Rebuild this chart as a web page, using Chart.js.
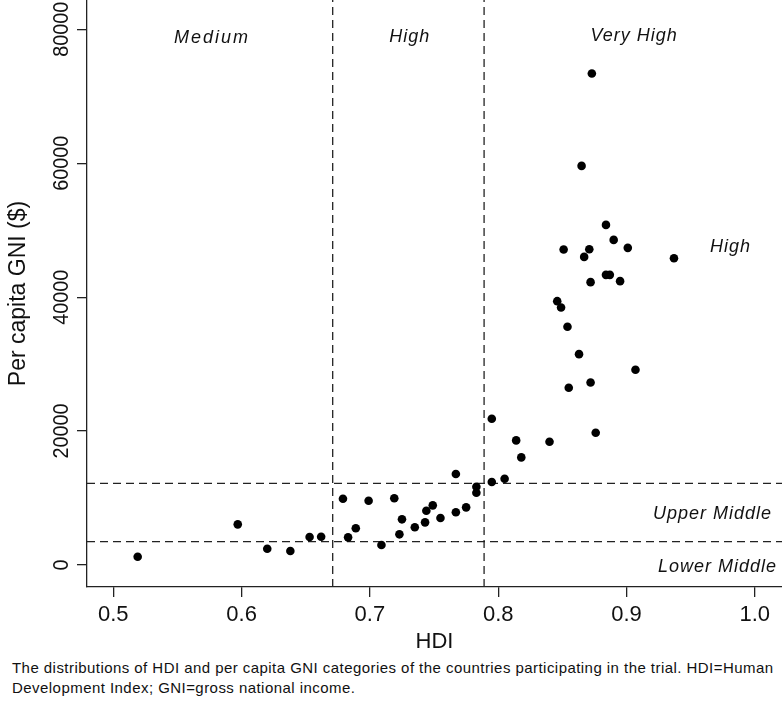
<!DOCTYPE html>
<html>
<head>
<meta charset="utf-8">
<script src="https://cdn.jsdelivr.net/npm/chart.js@4.4.1/dist/chart.umd.min.js"></script>
<style>
  body { margin: 0; background: #fff; }
  #wrap { position: relative; width: 782px; height: 714px; }
  #caption {
    position: absolute; left: 12px; top: 658px;
    font: 15px "Liberation Sans", Arial, sans-serif;
    letter-spacing: 0.45px;
    line-height: 20px; color: #111; white-space: nowrap;
  }
</style>
</head>
<body>
<div id="wrap">
  <canvas id="chart" width="782" height="656"></canvas>
  <div id="caption">The distributions of HDI and per capita GNI categories of the countries participating in the trial. HDI=Human<br>Development Index; GNI=gross national income.</div>
</div>
<script>
// HDI and per capita GNI ($) of each country
const hdi = [0.519, 0.597, 0.620, 0.638, 0.653, 0.662, 0.679, 0.683, 0.689, 0.699,
             0.709, 0.719, 0.723, 0.725, 0.735, 0.743, 0.744, 0.749, 0.755, 0.767,
             0.767, 0.775, 0.783, 0.783, 0.795, 0.805, 0.795, 0.814, 0.818, 0.840,
             0.855, 0.872, 0.876, 0.846, 0.849, 0.854, 0.863, 0.907, 0.884, 0.890,
             0.851, 0.871, 0.901, 0.867, 0.937, 0.884, 0.887, 0.872, 0.895, 0.873,
             0.865];
const gni = [1240, 6070, 2430, 2090, 4180, 4220, 9900, 4130, 5480, 9600,
             2990, 9960, 4580, 6820, 5630, 6370, 8100, 8910, 7020, 7870,
             13580, 8610, 11690, 10790, 12390, 12880, 21840, 18610, 16070, 18400,
             26460, 27260, 19750, 39400, 38460, 35570, 31490, 29150, 50790, 48550,
             47120, 47160, 47360, 46010, 45820, 43330, 43330, 42240, 42390, 73390,
             59600];

// category cut-offs
const hdiCuts = [0.671, 0.789];
const gniCuts = [3500, 12200];

const xTicks = [0.5, 0.6, 0.7, 0.8, 0.9, 1.0];
const yTicks = [0, 20000, 40000, 60000, 80000];

// category names and where they sit (data units)
const regionLabels = ['Medium', 'High', 'Very High', 'High', 'Upper Middle', 'Lower Middle'];
const regionX = [0.577, 0.731, 0.906, 0.981, 0.967, 0.971];
const regionY = [78700, 78830, 78930, 47480, 7660, -300];

const xMin = 0.4795, xMax = 1.0212;
const yMin = -3285, yMax = 84376;

const FONT = '"Liberation Sans", Arial, sans-serif';

const points = hdi.map((v, i) => ({ x: v, y: gni[i] }));

const cutSets = [];
hdiCuts.forEach(c => cutSets.push([{ x: c, y: yMin }, { x: c, y: yMax }]));
gniCuts.forEach(c => cutSets.push([{ x: xMin, y: c }, { x: xMax, y: c }]));

const datasets = [{
  data: points,
  backgroundColor: '#000',
  borderWidth: 0,
  pointRadius: 4.3,
  pointHoverRadius: 4.3
}];
cutSets.forEach(d => datasets.push({
  data: d,
  showLine: true,
  borderColor: '#222',
  borderWidth: 1.3,
  borderDash: [8, 5],
  pointRadius: 0
}));

const textPlugin = {
  id: 'texts',
  afterDraw(chart) {
    const ctx = chart.ctx;
    const xs = chart.scales.x, ys = chart.scales.y;
    ctx.save();
    // category names
    ctx.font = 'italic 18px ' + FONT;
    ctx.fillStyle = '#111';
    ctx.textAlign = 'center';
    ctx.textBaseline = 'middle';
    regionLabels.forEach((t, i) => {
      ctx.letterSpacing = i === 0 ? '2px' : '1px';
      ctx.fillText(t, xs.getPixelForValue(regionX[i]), ys.getPixelForValue(regionY[i]));
    });
    // rotated y tick labels
    ctx.letterSpacing = '0px';
    ctx.font = '22px ' + FONT;
    yTicks.forEach(v => {
      ctx.save();
      ctx.translate(ys.right - 25, ys.getPixelForValue(v));
      ctx.rotate(-Math.PI / 2);
      ctx.scale(0.9, 1);
      ctx.fillText(String(v), 0, 0);
      ctx.restore();
    });
    ctx.restore();
  }
};

new Chart(document.getElementById('chart'), {
  type: 'scatter',
  data: { datasets: datasets },
  options: {
    responsive: false,
    animation: false,
    layout: { padding: 0, autoPadding: false },
    plugins: { legend: { display: false }, tooltip: { enabled: false } },
    scales: {
      x: {
        type: 'linear',
        min: xMin,
        max: xMax,
        afterBuildTicks: s => { s.ticks = xTicks.map(v => ({ value: v })); },
        afterFit: s => { s.height = 69; },
        grid: { drawOnChartArea: false, drawTicks: true, tickLength: 10, color: '#222', lineWidth: 1.3 },
        border: { display: true, color: '#222', width: 1.3 },
        ticks: {
          color: '#111', padding: 5,
          font: { family: FONT, size: 22 },
          callback: v => v.toFixed(1)
        },
        title: {
          display: true, text: 'HDI', color: '#111',
          font: { family: FONT, size: 22 },
          padding: { top: 0, bottom: 1 }
        }
      },
      y: {
        type: 'linear',
        min: yMin,
        max: yMax,
        afterBuildTicks: s => { s.ticks = yTicks.map(v => ({ value: v })); },
        afterFit: s => { s.width = 87; },
        grid: { drawOnChartArea: false, drawTicks: true, tickLength: 10, color: '#222', lineWidth: 1.3 },
        border: { display: true, color: '#222', width: 1.3 },
        ticks: { display: false },
        title: {
          display: true, text: 'Per capita GNI ($)', color: '#111',
          font: { family: FONT, size: 23 },
          padding: { top: 5, bottom: 0 }
        }
      }
    }
  },
  plugins: [textPlugin]
});
</script>
</body>
</html>
